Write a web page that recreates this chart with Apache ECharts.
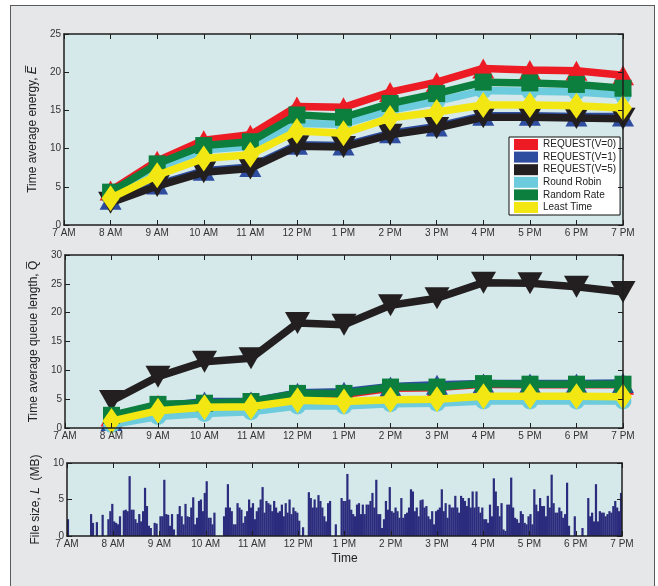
<!DOCTYPE html>
<html>
<head>
<meta charset="utf-8">
<title>Energy, queue length and file size over the day</title>
<script src="https://cdn.jsdelivr.net/npm/echarts@6/dist/echarts.min.js"></script>
<style>
  html, body { margin: 0; padding: 0; background: #ffffff; }
  #frame {
    position: absolute; left: 10px; top: 5px; width: 643px; height: 600px;
    background: #e6e7e9; border: 1.5px solid #5a5b5d; border-bottom: none;
  }
  #chart { position: absolute; left: 0; top: 0; width: 658px; height: 586px; }
</style>
</head>
<body>
<div id="frame"></div>
<div id="chart"></div>
<script>
// Hour tick labels for the 7 AM .. 7 PM axis
const hourLabels = ['7 AM', '8 AM', '9 AM', '10 AM', '11 AM', '12 PM',
                    '1 PM', '2 PM', '3 PM', '4 PM', '5 PM', '6 PM', '7 PM'];
// Hourly sampling instants (hour of day)
const hours = [8, 9, 10, 11, 12, 13, 14, 15, 16, 17, 18, 19];

// Time average energy
const energyV0   = [4.5, 8.4, 11.1, 11.8, 15.5, 15.4, 17.4, 18.7, 20.5, 20.3, 20.2, 19.6];
const energyV1   = [3.3, 5.3, 7.1, 7.6, 10.5, 10.4, 12.0, 12.9, 14.3, 14.3, 14.2, 14.2];
const energyV5   = [2.9, 5.1, 6.9, 7.4, 10.3, 10.2, 11.8, 12.7, 14.1, 14.1, 14.0, 13.9];
const energyRR   = [3.9, 7.5, 9.8, 10.3, 13.3, 13.2, 15.0, 16.2, 17.6, 17.5, 17.4, 17.0];
const energyRand = [4.3, 8.0, 10.4, 10.9, 14.4, 14.1, 15.9, 17.2, 18.7, 18.6, 18.4, 17.9];
const energyLT   = [3.5, 6.5, 8.7, 9.2, 12.3, 12.0, 14.0, 14.8, 15.7, 15.7, 15.6, 15.3];

// Time average queue length
const queueV0   = [2.0, 4.0, 4.2, 4.5, 5.9, 5.8, 6.9, 7.0, 7.6, 7.5, 7.5, 7.5];
const queueV1   = [1.2, 3.7, 4.6, 4.6, 6.1, 6.3, 7.2, 7.5, 7.7, 7.7, 7.7, 7.8];
const queueV5   = [4.7, 8.9, 11.5, 12.1, 18.2, 17.9, 21.3, 22.5, 25.2, 25.1, 24.5, 23.6];
const queueRR   = [0.6, 2.0, 2.5, 2.8, 3.8, 3.8, 4.2, 4.3, 4.7, 4.7, 4.7, 4.7];
const queueRand = [2.2, 4.1, 4.3, 4.6, 6.0, 6.0, 7.1, 7.1, 7.7, 7.6, 7.6, 7.6];
const queueLT   = [1.2, 3.0, 3.6, 3.7, 4.8, 4.6, 4.9, 5.0, 5.5, 5.5, 5.5, 5.4];

// File size arrivals (MB), one sample every 2.5 minutes from 7:00 to 18:57:30
const fileSizeMB = [
  2.3, 0, 0, 0, 0, 0, 0, 0, 0, 0, 0, 0, 3.0, 1.8, 0, 1.9, 0, 0, 2.9, 0,
  0, 2.3, 3.4, 4.4, 2.0, 1.8, 1.6, 2.7, 0, 3.5, 3.6, 3.4, 8.2, 3.6, 3.6, 2.3, 1.8, 3.0, 2.0, 3.4,
  6.6, 4.1, 1.4, 1.1, 0, 1.8, 1.7, 0, 2.7, 2.7, 7.7, 3.0, 2.9, 1.4, 3.0, 0.9, 0,
  3.0, 4.1, 2.7, 1.6, 4.4, 2.7, 2.6, 3.9, 5.3, 1.6, 2.5, 4.8, 5.0, 3.4, 5.9, 7.5, 2.5, 2.5, 1.6, 3.2,
  0, 0, 0, 0, 2.7, 3.9, 7.1, 3.9, 3.4, 1.6, 1.6, 4.5, 3.9, 3.6, 1.8, 2.7, 3.4, 5.0, 3.9, 4.5,
  2.3, 3.4, 3.9, 5.0, 6.7, 3.2, 4.8, 4.5, 4.3, 3.4, 4.8, 3.9, 3.2, 3.4, 4.3, 2.7, 4.5, 3.2,
  5.0, 3.0, 3.9, 3.4, 3.2, 2.1, 0, 1.2, 0, 0, 6.0, 5.2, 3.9, 5.0, 3.9, 5.6, 4.8, 3.9, 2.7, 2.0,
  4.5, 4.8, 0, 0, 1.6, 0, 0, 5.2, 4.8, 4.8, 8.5, 5.0, 3.6, 3.0, 2.7, 4.3, 4.5, 3.0, 4.3, 3.0,
  4.3, 4.3, 4.8, 5.9, 3.9, 7.7, 3.0, 3.0, 1.1, 2.3, 4.8, 3.6, 6.7, 3.4, 3.2, 3.9, 3.4, 2.5,
  5.2, 2.5, 3.0, 3.2, 3.9, 6.4, 6.1, 3.4, 3.9, 2.7, 4.9, 5.0, 3.9, 4.1, 2.7, 2.3, 3.4, 1.6, 3.4, 3.6,
  3.9, 6.4, 3.4, 4.5, 2.5, 4.3, 3.9, 3.9, 5.5, 3.9, 3.2, 5.5, 5.2, 4.8, 4.1, 5.2, 3.9, 6.1, 3.9, 6.1,
  4.0, 3.2, 3.9, 2.3, 2.3, 1.8, 4.3, 2.7, 7.9, 6.1, 4.1, 2.7, 4.5, 0.9, 0.7, 4.3, 4.3,
  8.0, 3.9, 2.5, 2.3, 1.8, 3.4, 3.0, 1.8, 1.6, 2.7, 3.0, 1.6, 6.4, 4.3, 3.4, 5.2, 4.1, 4.1, 2.7, 5.5,
  3.9, 8.4, 4.5, 3.2, 3.2, 3.9, 3.4, 2.5, 3.0, 7.3, 1.4, 0, 0, 2.7, 0, 0, 0, 1.1, 0, 0,
  5.2, 2.7, 3.2, 2.0, 7.1, 2.0, 3.4, 3.2, 3.2, 2.7, 3.0, 3.4, 3.2, 4.1, 4.8, 3.9, 3.4, 5.9
];
// Sample slots: minutes after 7:00 for each file-size sample
const sampleMinutes = fileSizeMB.map(function (_, i) { return String(i * 2.5); });

const seriesNames = ['REQUEST(V=0)', 'REQUEST(V=1)', 'REQUEST(V=5)', 'Round Robin', 'Random Rate', 'Least Time'];

const FONT = '"Liberation Sans", Arial, Helvetica, sans-serif';
const PLOT_BG = '#d5e8ea';
const AXIS_COLOR = '#1e1e1e';
const LABEL_COLOR = '#333333';

const styles = [
  { color: '#ed1c24', symbol: 'triangle', size: [22, 20], rotate: 0 },
  { color: '#2e4d9e', symbol: 'triangle', size: [22, 20], rotate: 0 },
  { color: '#231f20', symbol: 'triangle', size: [25, 22], rotate: 180 },
  { color: '#6ccbdc', symbol: 'circle',   size: 17,       rotate: 0 },
  { color: '#0c7f3f', symbol: 'rect',     size: 17,       rotate: 0 },
  { color: '#f2e712', symbol: 'diamond',  size: [18, 26], rotate: 0 }
];

const grids = [
  { left: 64, top: 34,  width: 559, height: 191 },
  { left: 65, top: 255, width: 558, height: 173 },
  { left: 67, top: 463, width: 555, height: 73 }
];

function hourAxis(gridIndex, position, showLabels, extra) {
  return Object.assign({
    type: 'value', gridIndex: gridIndex, position: position,
    min: 7, max: 19, interval: 1,
    axisLine: { show: true, onZero: false, lineStyle: { color: AXIS_COLOR, width: 1.5 } },
    axisTick: { show: true, inside: true, length: 5, lineStyle: { color: AXIS_COLOR, width: 1 } },
    axisLabel: {
      show: showLabels, margin: 3, color: LABEL_COLOR, fontFamily: FONT, fontSize: 10,
      formatter: function (v) { return hourLabels[Math.round(v) - 7]; }
    },
    splitLine: { show: false },
    z: 10
  }, extra || {});
}

function valueAxis(gridIndex, position, showLabels, max, interval, extra) {
  return Object.assign({
    type: 'value', gridIndex: gridIndex, position: position,
    min: 0, max: max, interval: interval,
    axisLine: { show: true, onZero: false, lineStyle: { color: AXIS_COLOR, width: 1.5 } },
    axisTick: { show: true, inside: true, length: 5, lineStyle: { color: AXIS_COLOR, width: 1 } },
    axisLabel: { show: showLabels, margin: 3, color: LABEL_COLOR, fontFamily: FONT, fontSize: 10 },
    splitLine: { show: false },
    z: 10
  }, extra || {});
}

const nameStyle = {
  fontFamily: FONT, fontSize: 12, color: '#222',
  rich: {
    it: { fontFamily: FONT, fontSize: 12, fontStyle: 'italic', color: '#222' },
    up: { fontFamily: FONT, fontSize: 12, color: '#222' }
  }
};

const xAxes = [
  hourAxis(0, 'bottom', true), hourAxis(0, 'top', false),
  hourAxis(1, 'bottom', true), hourAxis(1, 'top', false),
  hourAxis(2, 'bottom', true, {
    name: 'Time', nameLocation: 'middle', nameGap: 17,
    nameTextStyle: { fontFamily: FONT, fontSize: 12, color: '#222' }
  }),
  hourAxis(2, 'top', false),
  // hidden slot axis carrying the file-size bars (one band per 2.5 min sample)
  {
    type: 'category', gridIndex: 2, data: sampleMinutes, boundaryGap: true,
    show: false, position: 'bottom'
  }
];

const yAxes = [
  valueAxis(0, 'left', true, 25, 5, {
    name: 'Time average energy, {it|E\u0305}', nameLocation: 'middle', nameGap: 18,
    nameTextStyle: nameStyle
  }),
  valueAxis(0, 'right', false, 25, 5),
  valueAxis(1, 'left', true, 30, 5, {
    name: 'Time average queue length, {up|Q\u0305}', nameLocation: 'middle', nameGap: 17,
    nameTextStyle: nameStyle
  }),
  valueAxis(1, 'right', false, 30, 5),
  valueAxis(2, 'left', true, 10, 5, {
    name: 'File size, {it|L}  (MB)', nameLocation: 'middle', nameGap: 18,
    nameTextStyle: nameStyle
  }),
  valueAxis(2, 'right', false, 10, 5)
];

function lineSeries(idx, values, axisIdx) {
  const st = styles[idx];
  return {
    name: seriesNames[idx], type: 'line',
    xAxisIndex: axisIdx, yAxisIndex: axisIdx,
    data: hours.map(function (h, i) { return [h, values[i]]; }),
    symbol: st.symbol, symbolSize: st.size, symbolRotate: st.rotate,
    showAllSymbol: true,
    lineStyle: { color: st.color, width: 7.5 },
    itemStyle: { color: st.color, borderWidth: 0 },
    emphasis: { disabled: true },
    clip: false,
    z: 3 + idx
  };
}

const energySets = [energyV0, energyV1, energyV5, energyRR, energyRand, energyLT];
const queueSets  = [queueV0, queueV1, queueV5, queueRR, queueRand, queueLT];

const series = [];
energySets.forEach(function (arr, i) { series.push(lineSeries(i, arr, 0)); });
queueSets.forEach(function (arr, i) { series.push(lineSeries(i, arr, 2)); });
series.push({
  name: 'File size', type: 'bar',
  xAxisIndex: 6, yAxisIndex: 4,
  data: fileSizeMB,
  barWidth: '115%',
  itemStyle: { color: '#2b2c7d' },
  emphasis: { disabled: true }
});

const chart = echarts.init(document.getElementById('chart'), null, { renderer: 'canvas' });
chart.setOption({
  backgroundColor: 'transparent',
  animation: false,
  textStyle: { fontFamily: FONT },
  grid: grids.map(function (g) {
    return Object.assign({ show: true, backgroundColor: PLOT_BG, borderWidth: 0, containLabel: false }, g);
  }),
  xAxis: xAxes,
  yAxis: yAxes,
  legend: {
    data: seriesNames.map(function (n, i) {
      return { name: n, icon: 'rect', itemStyle: { color: styles[i].color } };
    }),
    orient: 'vertical',
    left: 509, top: 137,
    backgroundColor: '#ffffff',
    borderColor: '#111', borderWidth: 1, borderRadius: 0,
    padding: [2, 4, 2, 5],
    itemWidth: 24, itemHeight: 11, itemGap: 1.6,
    textStyle: { fontFamily: FONT, fontSize: 10, color: '#222' },
    selectedMode: false
  },
  series: series
});
</script>
</body>
</html>
